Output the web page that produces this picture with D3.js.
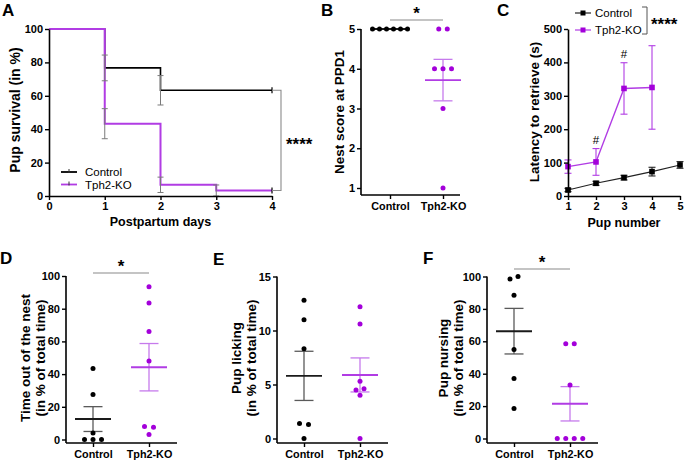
<!DOCTYPE html>
<html><head><meta charset="utf-8">
<script src="https://cdn.jsdelivr.net/npm/d3@7"></script>
<style>
body{margin:0;background:#fff}
svg{display:block;background:#fff}
text{font-family:"Liberation Sans",Arial,Helvetica,sans-serif}
</style>
</head><body>
<svg id="chart" width="685" height="462"></svg>
<script>
// ---------------- DATA ----------------
// Panel A: Kaplan-Meier pup survival
const survDays = [0, 1, 2, 3, 4];
const survControl = [100, 76.7, 63.3, 63.3, 63.3];
const survControlSE = [0, 7.7, 8.8, 0, 0];
const survKO = [100, 43.3, 6.7, 3.3, 3.3];
const survKOSE = [0, 9, 4.6, 3.3, 0];
const survYTicks = [0, 20, 40, 60, 80, 100];
const survXTicks = [0, 1, 2, 3, 4];

// Panel C: latency to retrieve
const pupNumber = [1, 2, 3, 4, 5];
const latControl = [18, 38, 55, 73, 93];
const latControlSE = [5, 6, 7, 13, 10];
const latKO = [88, 102, 322, 325];
const latKOSE = [20, 40, 77, 125];
const latHash = [2, 3];
const latYTicks = [0, 100, 200, 300, 400, 500];

// Groups
const groups = ["Control", "Tph2-KO"];

// Panel B: nest score
const nestControl = [5, 5, 5, 5, 5, 5];
const nestKO = [5, 5, 4, 4, 4, 3, 1];
const nestTicks = [1, 2, 3, 4, 5];

// Panel D: time out of the nest
const outControl = [43.5, 27.5, 4, 0, 0, 0];
const outKO = [93.5, 83.5, 66, 48, 8, 7.5, 3];
const pctTicks = [0, 20, 40, 60, 80, 100];

// Panel E: pup licking
const lickControl = [12.8, 11, 8.3, 1.4, 1.3, 0];
const lickKO = [12.2, 10.6, 5.3, 4.5, 4.6, 4.0, 0];
const lickTicks = [0, 5, 10, 15];

// Panel F: pup nursing
const nurseControl = [98.5, 100, 88.5, 55, 37, 18.5];
const nurseKO = [58.5, 58.5, 33, 0, 0, 0, 0];

// ---------------- STYLE ----------------
const PURPLE = "#a300da", PURPLE_LINE = "#b13ce4", PURPLE_ERR = "#c67aec";
const SIG = "#8a8a8a";
const svg = d3.select("#chart");

function styleAxis(g) {
  g.selectAll("path.domain").attr("stroke", "#000").attr("stroke-width", 1.6);
  g.selectAll(".tick line").attr("stroke", "#000").attr("stroke-width", 1.4);
  g.selectAll(".tick text").attr("fill", "#000").attr("font-size", 11)
    .attr("font-weight", "bold").attr("font-family", '"Liberation Sans",Arial,sans-serif');
}
function letter(t, x, y) {
  svg.append("text").attr("x", x).attr("y", y).attr("font-size", 17).attr("font-weight", "bold").text(t);
}
function yTitle(lines, xs, cy, size) {
  lines.forEach((t, i) => {
    svg.append("text").attr("transform", `translate(${xs[i]},${cy}) rotate(-90)`)
      .attr("text-anchor", "middle").attr("dominant-baseline", "central")
      .attr("font-size", size || 13.5).attr("font-weight", "bold").text(t);
  });
}
function errBar(g, x, y1, y2, cap, color, w) {
  g.append("line").attr("x1", x).attr("x2", x).attr("y1", y1).attr("y2", y2).attr("stroke", color).attr("stroke-width", w || 1.2);
  [y1, y2].forEach(yy => g.append("line").attr("x1", x - cap).attr("x2", x + cap).attr("y1", yy).attr("y2", yy).attr("stroke", color).attr("stroke-width", w || 1.2));
}
function stars(t, x, y, anchor) {
  svg.append("text").attr("x", x).attr("y", y).attr("text-anchor", anchor || "middle")
    .attr("font-size", 17).attr("font-weight", "bold").text(t);
}

// ---------------- PANEL A ----------------
(function () {
  const x = d3.scaleLinear().domain([0, 4]).range([49, 272]);
  const y = d3.scaleLinear().domain([0, 100]).range([196, 29]);
  const gA = svg.append("g");
  const line = d3.line().x(d => x(d[0])).y(d => y(d[1])).curve(d3.curveStepAfter);
  const ctrlPts = survDays.map((d, i) => [d, survControl[i]]);
  const koPts = survDays.map((d, i) => [d, survKO[i]]);
  gA.append("path").attr("d", line(ctrlPts)).attr("fill", "none").attr("stroke", "#000").attr("stroke-width", 1.6);
  gA.append("path").attr("d", line(koPts)).attr("fill", "none").attr("stroke", PURPLE_LINE).attr("stroke-width", 2);
  survDays.forEach((d, i) => {
    if (survControlSE[i] > 0) errBar(gA, x(d), y(survControl[i] + survControlSE[i]), y(survControl[i] - survControlSE[i]), 3, "#7a7a7a", 1);
    if (survKOSE[i] > 0) errBar(gA, x(d), y(survKO[i] + survKOSE[i]), y(Math.max(0, survKO[i] - survKOSE[i])), 3, "#7a7a7a", 1);
  });
  const last = survDays.length - 1;
  gA.append("line").attr("x1", x(survDays[last])).attr("x2", x(survDays[last]))
    .attr("y1", y(survControl[last]) - 3).attr("y2", y(survControl[last]) + 3).attr("stroke", "#000").attr("stroke-width", 1.2);
  gA.append("line").attr("x1", x(survDays[last])).attr("x2", x(survDays[last]))
    .attr("y1", y(survKO[last]) - 3).attr("y2", y(survKO[last]) + 3).attr("stroke", "#000").attr("stroke-width", 1.2);

  const ax = svg.append("g").attr("transform", "translate(0,196)")
    .call(d3.axisBottom(x).tickValues(survXTicks).tickFormat(d3.format("d")).tickSize(4).tickSizeOuter(0).tickPadding(2));
  styleAxis(ax);
  const ay = svg.append("g").attr("transform", "translate(49,0)")
    .call(d3.axisLeft(y).tickValues(survYTicks).tickFormat(d3.format("d")).tickSize(4).tickSizeOuter(0).tickPadding(2));
  styleAxis(ay);

  [["Control", "#000"], ["Tph2-KO", PURPLE_LINE]].forEach((l, i) => {
    const ly = 172 + i * 12.5;
    svg.append("line").attr("x1", 61).attr("x2", 77).attr("y1", ly).attr("y2", ly).attr("stroke", l[1]).attr("stroke-width", 1.8);
    svg.append("line").attr("x1", 69).attr("x2", 69).attr("y1", ly - 3).attr("y2", ly + 1).attr("stroke", "#333").attr("stroke-width", 1);
    svg.append("text").attr("x", 85).attr("y", ly).attr("dominant-baseline", "central").attr("font-size", 11.5).text(l[0]);
  });
  const y1 = y(survControl[last]), y2 = y(survKO[last]);
  svg.append("path").attr("d", `M${x(4)},${y1}H281V${y2}H${x(4)}`).attr("fill", "none").attr("stroke", SIG).attr("stroke-width", 1.1);
  stars("****", 286, 150, "start");
  svg.append("text").attr("x", 160.5).attr("y", 226).attr("text-anchor", "middle").attr("font-size", 12.5).attr("font-weight", "bold").text("Postpartum days");
  yTitle(["Pup survival (in %)"], [15], 110, 14);
  letter("A", 2, 16);
})();

// ---------------- PANEL C ----------------
(function () {
  const x = d3.scaleLinear().domain([1, 5]).range([568, 680]);
  const y = d3.scaleLinear().domain([0, 500]).range([196, 29]);
  const g = svg.append("g");
  const line = d3.line().x((d, i) => x(pupNumber[i])).y(d => y(d));
  g.append("path").attr("d", line(latControl)).attr("fill", "none").attr("stroke", "#222").attr("stroke-width", 1.1);
  latControl.forEach((v, i) => errBar(g, x(pupNumber[i]), y(v + latControlSE[i]), y(v - latControlSE[i]), 3.5, "#222", 1.1));
  latControl.forEach((v, i) => g.append("rect").attr("x", x(pupNumber[i]) - 2.8).attr("y", y(v) - 2.8).attr("width", 5.6).attr("height", 5.6).attr("fill", "#000"));
  g.append("path").attr("d", line(latKO)).attr("fill", "none").attr("stroke", PURPLE_LINE).attr("stroke-width", 1.4);
  latKO.forEach((v, i) => errBar(g, x(pupNumber[i]), y(v + latKOSE[i]), y(v - latKOSE[i]), 3.5, PURPLE_LINE, 1.1));
  latKO.forEach((v, i) => g.append("rect").attr("x", x(pupNumber[i]) - 2.8).attr("y", y(v) - 2.8).attr("width", 5.6).attr("height", 5.6).attr("fill", PURPLE));
  latHash.forEach(p => {
    const i = pupNumber.indexOf(p);
    svg.append("text").attr("x", x(p)).attr("y", y(latKO[i] + latKOSE[i]) - 8.5).attr("text-anchor", "middle")
      .attr("dominant-baseline", "central").attr("font-size", 11.5).text("#");
  });
  const ax = svg.append("g").attr("transform", "translate(0,196)")
    .call(d3.axisBottom(x).tickValues(pupNumber).tickFormat(d3.format("d")).tickSize(4).tickSizeOuter(0).tickPadding(2));
  styleAxis(ax);
  const ay = svg.append("g").attr("transform", "translate(568,0)")
    .call(d3.axisLeft(y).tickValues(latYTicks).tickFormat(d3.format("d")).tickSize(4).tickSizeOuter(0).tickPadding(2));
  styleAxis(ay);
  [["Control", "#222", "#000"], ["Tph2-KO", PURPLE_LINE, PURPLE]].forEach((l, i) => {
    const ly = 13 + i * 17;
    svg.append("line").attr("x1", 575).attr("x2", 591).attr("y1", ly).attr("y2", ly).attr("stroke", l[1]).attr("stroke-width", 1.2);
    svg.append("rect").attr("x", 580.5).attr("y", ly - 2.5).attr("width", 5).attr("height", 5).attr("fill", l[2]);
    svg.append("text").attr("x", 595).attr("y", ly).attr("dominant-baseline", "central").attr("font-size", 11.5).text(l[0]);
  });
  svg.append("path").attr("d", "M642,7H647V34H642").attr("fill", "none").attr("stroke", "#555").attr("stroke-width", 1);
  stars("****", 651, 30, "start");
  svg.append("text").attr("x", 624).attr("y", 227).attr("text-anchor", "middle").attr("font-size", 12.5).attr("font-weight", "bold").text("Pup number");
  yTitle(["Latency to retrieve (s)"], [534], 112);
  letter("C", 497, 16);
})();

// ---------------- SCATTER PANELS ----------------
function scatterPanel(o) {
  const y = d3.scaleLinear().domain(o.yDomain).range(o.yRange);
  const xs = d3.scalePoint().domain(groups).range(o.cx);
  const g = svg.append("g");
  g.append("line").attr("x1", o.x0).attr("x2", o.xEnd).attr("y1", o.axisY).attr("y2", o.axisY).attr("stroke", "#000").attr("stroke-width", 1.6);
  const ax = g.append("g").attr("transform", `translate(0,${o.axisY})`)
    .call(d3.axisBottom(xs).tickSize(4).tickSizeOuter(0).tickPadding(3));
  ax.select("path.domain").remove();
  styleAxis(ax);
  ax.selectAll(".tick text").attr("font-size", 10.8);
  g.append("line").attr("x1", o.x0).attr("x2", o.x0).attr("y1", o.axisY).attr("y2", o.yRange[1]).attr("stroke", "#000").attr("stroke-width", 1.6);
  const ay = g.append("g").attr("transform", `translate(${o.x0},0)`)
    .call(d3.axisLeft(y).tickValues(o.ticks).tickFormat(d3.format("d")).tickSize(4).tickSizeOuter(0).tickPadding(2));
  ay.select("path.domain").remove();
  styleAxis(ay);

  const sets = [[o.ctrl, "#1a1a1a", "#5a5a5a", "#000", o.spacing[0]], [o.ko, PURPLE_LINE, PURPLE_ERR, PURPLE, o.spacing[1]]];
  sets.forEach((s, gi) => {
    const vals = s[0];
    const cx = xs(groups[gi]);
    const mean = d3.mean(vals);
    const sem = d3.deviation(vals) / Math.sqrt(vals.length);
    if (sem > 0) errBar(g, cx, y(mean + sem), y(mean - sem), 9.5, s[2], 1.3);
    g.append("line").attr("x1", cx - 18).attr("x2", cx + 18).attr("y1", y(mean)).attr("y2", y(mean)).attr("stroke", s[1]).attr("stroke-width", 1.9);
    const clusters = [];
    vals.forEach(v => {
      const c = clusters[clusters.length - 1];
      if (c && Math.abs(y(c[c.length - 1]) - y(v)) < 5) c.push(v); else clusters.push([v]);
    });
    clusters.forEach(c => c.forEach((v, k) => {
      g.append("circle").attr("cx", cx + (k - (c.length - 1) / 2) * s[4]).attr("cy", y(v)).attr("r", 2.5).attr("fill", s[3]);
    }));
  });
  if (o.sig) {
    g.append("line").attr("x1", o.cx[0]).attr("x2", o.cx[1]).attr("y1", o.sig).attr("y2", o.sig).attr("stroke", SIG).attr("stroke-width", 1.2);
    stars("*", (o.cx[0] + o.cx[1]) / 2, o.sig - 1);
  }
  yTitle(o.title, o.titleX, o.titleY);
}

scatterPanel({ x0: 361, xEnd: 460, axisY: 195, cx: [390, 443], yDomain: [1, 5], yRange: [188, 29], ticks: nestTicks,
  ctrl: nestControl, ko: nestKO, spacing: [7, 8.5], sig: 20, title: ["Nest score at PPD1"], titleX: [339], titleY: 112 });
letter("B", 321, 16);

scatterPanel({ x0: 66, xEnd: 177, axisY: 443, cx: [93, 149], yDomain: [0, 100], yRange: [439.5, 276], ticks: pctTicks,
  ctrl: outControl, ko: outKO, spacing: [8.5, 9], sig: 273, title: ["Time out of the nest", "(in % of total time)"], titleX: [25, 40], titleY: 358 });
letter("D", 0, 264);

scatterPanel({ x0: 277, xEnd: 388, axisY: 443, cx: [304, 360], yDomain: [0, 15], yRange: [438.5, 276.5], ticks: lickTicks,
  ctrl: lickControl, ko: lickKO, spacing: [9, 8], sig: null, title: ["Pup licking", "(in % of total time)"], titleX: [236, 251], titleY: 358 });
letter("E", 213, 265);

scatterPanel({ x0: 487, xEnd: 598, axisY: 443, cx: [514, 570], yDomain: [0, 100], yRange: [438.5, 276.5], ticks: pctTicks,
  ctrl: nurseControl, ko: nurseKO, spacing: [8, 8.5], sig: 269, title: ["Pup nursing", "(in % of total time)"], titleX: [443, 458], titleY: 358 });
letter("F", 423, 264);
</script>
</body></html>
